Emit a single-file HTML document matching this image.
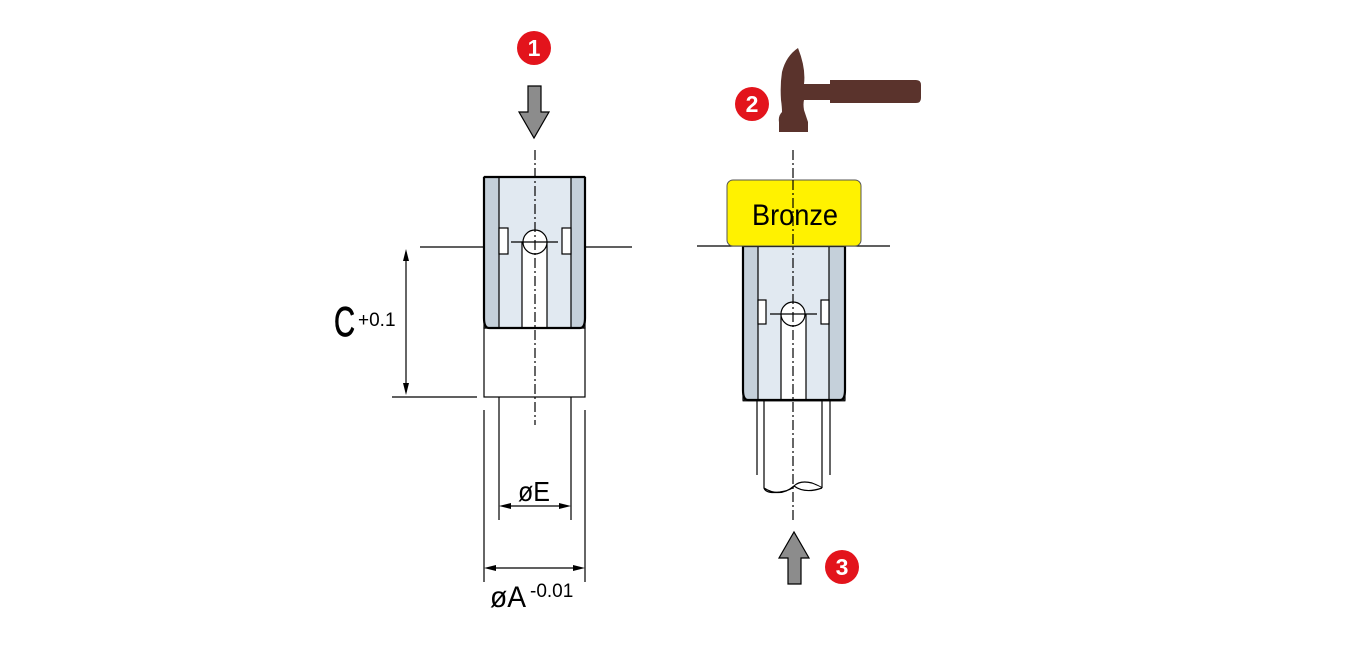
<!DOCTYPE html>
<html><head><style>body{margin:0;background:#fff}svg{display:block}text{font-family:"Liberation Sans",sans-serif}</style></head><body>
<svg width="1358" height="668" viewBox="0 0 1358 668" xmlns="http://www.w3.org/2000/svg">
<g stroke="#000" fill="none" stroke-width="1.2">
<!-- LEFT -->
<rect x="484" y="177" width="101" height="151" fill="#c5d0da"/>
<rect x="499" y="177" width="72" height="151" fill="#e1e9f1"/>
<rect x="522" y="242" width="25" height="86" fill="#fff"/>
<rect x="499" y="228" width="9" height="26" fill="#fff"/>
<rect x="562" y="228" width="9" height="26" fill="#fff"/>
<circle cx="535" cy="242" r="12" fill="#fff"/>
<line x1="511" y1="242" x2="558" y2="242"/>
<path d="M484 177 H585 M484 177 V318 Q484 328 489 328 H580 Q585 328 585 318 V177" stroke-width="2.2"/>
<rect x="484" y="328" width="101" height="69"/>
<line x1="420" y1="247" x2="484" y2="247"/><line x1="585" y1="247" x2="632" y2="247"/>
<line x1="392" y1="397" x2="477" y2="397"/>
<line x1="499" y1="397" x2="499" y2="520"/><line x1="571" y1="397" x2="571" y2="520"/>
<line x1="484" y1="410" x2="484" y2="582"/><line x1="585" y1="410" x2="585" y2="582"/>
<line x1="406" y1="252" x2="406" y2="392"/>
<line x1="503" y1="506" x2="567" y2="506"/>
<line x1="488" y1="568" x2="581" y2="568"/>
<line x1="535" y1="150" x2="535" y2="425" stroke-dasharray="10,3,2,3"/>
<!-- RIGHT -->
<rect x="743" y="246" width="102" height="154" fill="#c5d0da"/>
<rect x="758" y="246" width="71" height="154" fill="#e1e9f1"/>
<rect x="781" y="315" width="25" height="85" fill="#fff"/>
<rect x="758" y="300" width="8" height="24" fill="#fff"/>
<rect x="821" y="300" width="8" height="24" fill="#fff"/>
<circle cx="793" cy="314" r="12" fill="#fff"/>
<line x1="770" y1="314" x2="817" y2="314"/>
<path d="M743 246 H845 M743 246 V390 Q743 400 748 400 H840 Q845 400 845 390 V246" stroke-width="2.2"/>
<rect x="743" y="246" width="102" height="155" stroke-width="0.8"/>
<line x1="757" y1="400" x2="757" y2="475"/><line x1="830" y1="400" x2="830" y2="475"/>
<path d="M764 400 V488 Q766 494 780 492 Q792 490 794 486 Q800 480 812 483 Q822 487 822 488 V400 M794 486 Q805 494 822 488 M764 488 Q780 498 794 486"/>
<line x1="697" y1="246" x2="890" y2="246"/>
<line x1="793" y1="150" x2="793" y2="520" stroke-dasharray="10,3,2,3"/>
</g>
<g fill="#000">
<path d="M406 249 l-3 12 h6z M406 395 l-3 -12 h6z"/>
<path d="M499 506 l12 -3 v6z M571 506 l-12 -3 v6z"/>
<path d="M484 568 l12 -3 v6z M585 568 l-12 -3 v6z"/>
</g>
<rect x="727" y="180" width="134" height="66" rx="6" fill="#fff200" stroke="#555" stroke-width="1"/>
<line x1="793" y1="180" x2="793" y2="246" stroke="#000" stroke-width="1.2" stroke-dasharray="10,3,2,3"/>
<text x="795" y="225" font-size="30" text-anchor="middle" textLength="86" lengthAdjust="spacingAndGlyphs">Bronze</text>
<text x="334" y="336" font-size="42" stroke="#000" stroke-width="0.8" textLength="21" lengthAdjust="spacingAndGlyphs">C</text>
<text x="358" y="326" font-size="19">+0.1</text>
<text x="518" y="501" font-size="28" textLength="32" lengthAdjust="spacingAndGlyphs">øE</text>
<text x="490" y="607" font-size="30" textLength="36" lengthAdjust="spacingAndGlyphs">øA</text>
<text x="530" y="597" font-size="19">-0.01</text>
<!-- arrows -->
<path d="M528 86 H541 V112 H549 L534 138 L519 112 H528Z" fill="#8c8c8c" stroke="#000" stroke-width="1.2"/>
<path d="M788 584 H801 V558 H809 L794 532 L779 558 H788Z" fill="#8c8c8c" stroke="#000" stroke-width="1.2"/>
<!-- hammer -->
<g fill="#5a332c">
<path d="M798 48 Q786 56 782 72 Q780 85 781 100 Q782 107 782 112 Q778 116 779 122 L779 132 H808 L808 122 Q806 116 804 110 Q803 104 804 100 H830 V103 H916 Q921 103 921 98 V85 Q921 80 916 80 H830 V84 H804 Q806 68 798 48Z"/>
</g>
<!-- numbers -->
<g font-weight="bold" font-size="23" fill="#fff" text-anchor="middle">
<circle cx="534" cy="48" r="17" fill="#e3141c"/><text x="534" y="56">1</text>
<circle cx="752" cy="104" r="17" fill="#e3141c"/><text x="752" y="112">2</text>
<circle cx="842" cy="567" r="17" fill="#e3141c"/><text x="842" y="575">3</text>
</g>
</svg>
</body></html>
